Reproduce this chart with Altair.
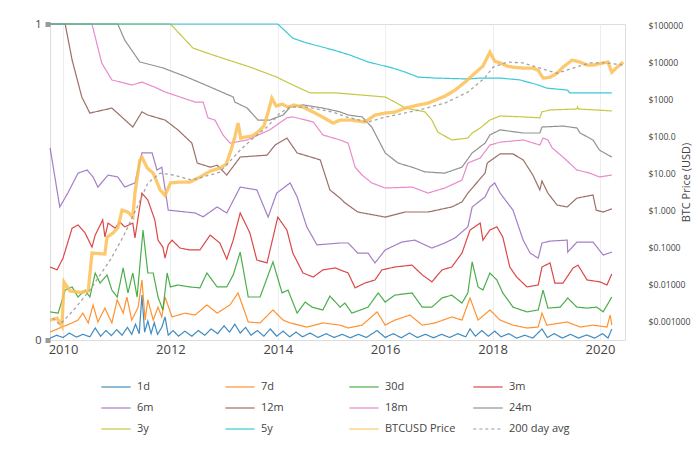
import altair as alt
import pandas as pd

SERIES = ["1d", "7d", "30d", "3m", "6m", "12m", "18m", "24m", "3y", "5y",
          "BTCUSD Price", "200 day avg"]
COLORS = ["#1f77b4", "#ff7f0e", "#2ca02c", "#d62728", "#9467bd", "#8c564b",
          "#e377c2", "#7f7f7f", "#bcbd22", "#17becf", "#fbbf55", "#9a9a9a"]

# ---- share of supply last moved within each age band (left axis, 0..1) ----
x_1d = [2009.76, 2009.88, 2010.00, 2010.12, 2010.25, 2010.37, 2010.50, 2010.60, 2010.70, 2010.80,
        2010.90, 2011.00, 2011.10, 2011.20, 2011.28, 2011.35, 2011.42, 2011.47, 2011.52, 2011.58,
        2011.64, 2011.70, 2011.76, 2011.84, 2011.90, 2011.96, 2012.05, 2012.15, 2012.27, 2012.40,
        2012.52, 2012.64, 2012.76, 2012.88, 2013.00, 2013.10, 2013.20, 2013.30, 2013.40, 2013.50,
        2013.62, 2013.74, 2013.86, 2013.98, 2014.10, 2014.22, 2014.34, 2014.46, 2014.60, 2014.75,
        2014.90, 2015.05, 2015.20, 2015.35, 2015.50, 2015.65, 2015.85, 2016.00, 2016.15, 2016.30,
        2016.45, 2016.60, 2016.75, 2016.90, 2017.05, 2017.20, 2017.35, 2017.50, 2017.58, 2017.68,
        2017.80, 2017.92, 2018.04, 2018.16, 2018.30, 2018.45, 2018.60, 2018.75, 2018.92, 2019.02,
        2019.15, 2019.30, 2019.45, 2019.60, 2019.75, 2019.90, 2020.05, 2020.15, 2020.22]
y_1d = [0.006, 0.015, 0.008, 0.022, 0.009, 0.018, 0.010, 0.038, 0.012, 0.030,
        0.014, 0.033, 0.015, 0.040, 0.018, 0.050, 0.020, 0.142, 0.025, 0.060,
        0.020, 0.055, 0.018, 0.040, 0.073, 0.015, 0.030, 0.012, 0.028, 0.012,
        0.030, 0.015, 0.035, 0.020, 0.045, 0.025, 0.050, 0.022, 0.040, 0.015,
        0.030, 0.012, 0.035, 0.012, 0.028, 0.010, 0.025, 0.010, 0.022, 0.008,
        0.020, 0.008, 0.018, 0.007, 0.018, 0.008, 0.030, 0.008, 0.020, 0.007,
        0.022, 0.008, 0.018, 0.007, 0.018, 0.008, 0.020, 0.010, 0.035, 0.012,
        0.030, 0.012, 0.028, 0.010, 0.020, 0.006, 0.015, 0.006, 0.035, 0.008,
        0.020, 0.006, 0.018, 0.006, 0.016, 0.006, 0.020, 0.006, 0.035]

x_7d = [2009.76, 2009.98, 2010.17, 2010.28, 2010.37, 2010.47, 2010.56, 2010.65, 2010.78, 2010.91,
        2011.01, 2011.12, 2011.19, 2011.28, 2011.40, 2011.47, 2011.53, 2011.58, 2011.68, 2011.77,
        2011.84, 2011.90, 2012.03, 2012.27, 2012.46, 2012.68, 2012.87, 2013.11, 2013.26, 2013.45,
        2013.67, 2013.91, 2014.10, 2014.23, 2014.54, 2014.84, 2015.16, 2015.31, 2015.57, 2015.85,
        2016.00, 2016.18, 2016.46, 2016.69, 2016.93, 2017.24, 2017.43, 2017.58, 2017.73, 2017.95,
        2018.14, 2018.38, 2018.64, 2018.85, 2018.92, 2019.01, 2019.39, 2019.63, 2019.87, 2020.13,
        2020.19, 2020.22]
y_7d = [0.025, 0.041, 0.054, 0.063, 0.085, 0.054, 0.111, 0.057, 0.101, 0.054,
        0.127, 0.085, 0.136, 0.063, 0.104, 0.190, 0.063, 0.127, 0.063, 0.104,
        0.073, 0.136, 0.073, 0.085, 0.079, 0.111, 0.085, 0.111, 0.149, 0.057,
        0.054, 0.095, 0.063, 0.054, 0.041, 0.054, 0.047, 0.038, 0.047, 0.089,
        0.047, 0.063, 0.079, 0.047, 0.054, 0.073, 0.063, 0.133, 0.063, 0.095,
        0.063, 0.047, 0.038, 0.041, 0.085, 0.047, 0.057, 0.041, 0.047, 0.041,
        0.079, 0.047]

x_30d = [2009.76, 2009.91, 2010.04, 2010.17, 2010.28, 2010.41, 2010.50, 2010.60, 2010.69, 2010.82,
         2010.91, 2011.01, 2011.12, 2011.21, 2011.30, 2011.38, 2011.49, 2011.58, 2011.68, 2011.77,
         2011.86, 2011.94, 2012.00, 2012.14, 2012.36, 2012.55, 2012.68, 2012.87, 2013.05, 2013.17,
         2013.30, 2013.45, 2013.67, 2013.91, 2014.08, 2014.19, 2014.36, 2014.51, 2014.64, 2014.84,
         2014.97, 2015.16, 2015.25, 2015.38, 2015.68, 2015.87, 2016.00, 2016.18, 2016.50, 2016.69,
         2016.87, 2017.06, 2017.24, 2017.43, 2017.54, 2017.62, 2017.73, 2017.82, 2017.95, 2018.08,
         2018.19, 2018.38, 2018.64, 2018.85, 2018.94, 2019.03, 2019.26, 2019.40, 2019.57, 2019.76,
         2019.94, 2020.06, 2020.22]
y_30d = [0.089, 0.085, 0.158, 0.168, 0.136, 0.158, 0.136, 0.212, 0.180, 0.206,
         0.158, 0.136, 0.228, 0.149, 0.212, 0.136, 0.348, 0.212, 0.212, 0.136,
         0.095, 0.212, 0.168, 0.174, 0.168, 0.165, 0.212, 0.168, 0.168, 0.206,
         0.278, 0.136, 0.136, 0.247, 0.149, 0.158, 0.085, 0.120, 0.104, 0.095,
         0.139, 0.104, 0.117, 0.085, 0.104, 0.149, 0.120, 0.142, 0.149, 0.104,
         0.104, 0.133, 0.142, 0.117, 0.149, 0.247, 0.168, 0.158, 0.212, 0.190,
         0.149, 0.104, 0.089, 0.095, 0.158, 0.101, 0.104, 0.133, 0.104, 0.101,
         0.104, 0.089, 0.136]

x_3m = [2009.76, 2009.89, 2010.00, 2010.17, 2010.28, 2010.41, 2010.54, 2010.60, 2010.74, 2010.78,
        2010.84, 2010.97, 2011.06, 2011.15, 2011.30, 2011.34, 2011.47, 2011.58, 2011.71, 2011.77,
        2011.86, 2011.90, 2011.96, 2012.03, 2012.18, 2012.36, 2012.55, 2012.74, 2012.92, 2013.05,
        2013.17, 2013.30, 2013.48, 2013.61, 2013.80, 2014.00, 2014.17, 2014.28, 2014.47, 2014.66,
        2014.84, 2015.07, 2015.31, 2015.44, 2015.62, 2015.81, 2015.94, 2016.18, 2016.50, 2016.69,
        2016.87, 2017.06, 2017.24, 2017.43, 2017.58, 2017.77, 2017.82, 2017.95, 2018.08, 2018.19,
        2018.32, 2018.45, 2018.64, 2018.85, 2018.92, 2019.07, 2019.16, 2019.31, 2019.50, 2019.59,
        2019.76, 2020.00, 2020.13, 2020.22]
y_3m = [0.231, 0.222, 0.259, 0.354, 0.364, 0.339, 0.294, 0.332, 0.380, 0.326,
        0.370, 0.354, 0.373, 0.358, 0.370, 0.323, 0.465, 0.443, 0.380, 0.316,
        0.294, 0.259, 0.301, 0.316, 0.291, 0.285, 0.285, 0.332, 0.307, 0.256,
        0.316, 0.402, 0.339, 0.253, 0.244, 0.389, 0.348, 0.275, 0.212, 0.199,
        0.222, 0.228, 0.212, 0.165, 0.180, 0.190, 0.222, 0.231, 0.237, 0.206,
        0.184, 0.222, 0.231, 0.275, 0.348, 0.370, 0.316, 0.348, 0.358, 0.326,
        0.231, 0.199, 0.168, 0.174, 0.231, 0.244, 0.180, 0.180, 0.228, 0.237,
        0.190, 0.184, 0.174, 0.209]

x_6m = [2009.76, 2009.94, 2010.09, 2010.28, 2010.45, 2010.56, 2010.65, 2010.84, 2011.02, 2011.15,
        2011.34, 2011.47, 2011.66, 2011.75, 2011.84, 2011.96, 2012.46, 2012.61, 2012.87, 2013.05,
        2013.30, 2013.61, 2013.82, 2013.98, 2014.23, 2014.36, 2014.54, 2014.73, 2015.16, 2015.31,
        2015.49, 2015.68, 2015.81, 2016.00, 2016.31, 2016.55, 2016.87, 2017.11, 2017.30, 2017.54,
        2017.62, 2017.86, 2017.95, 2018.04, 2018.14, 2018.38, 2018.57, 2018.70, 2018.85, 2018.92,
        2019.07, 2019.39, 2019.40, 2019.57, 2019.87, 2020.06, 2020.22]
y_6m = [0.608, 0.421, 0.465, 0.528, 0.538, 0.516, 0.484, 0.522, 0.516, 0.484,
        0.497, 0.592, 0.592, 0.538, 0.547, 0.411, 0.402, 0.390, 0.421, 0.402,
        0.484, 0.475, 0.389, 0.465, 0.497, 0.453, 0.358, 0.301, 0.307, 0.307,
        0.275, 0.275, 0.244, 0.285, 0.310, 0.316, 0.291, 0.307, 0.323, 0.358,
        0.421, 0.453, 0.484, 0.497, 0.465, 0.411, 0.316, 0.275, 0.259, 0.307,
        0.313, 0.316, 0.278, 0.310, 0.310, 0.269, 0.278]

x_12m = [2009.76, 2010.04, 2010.17, 2010.35, 2010.50, 2010.91, 2011.30, 2011.47, 2011.58, 2011.90,
         2012.14, 2012.40, 2012.50, 2012.74, 2012.87, 2013.05, 2013.30, 2013.80, 2013.95, 2014.17,
         2014.36, 2014.79, 2014.97, 2015.16, 2015.25, 2015.49, 2016.00, 2016.37, 2016.80, 2017.24,
         2017.43, 2017.54, 2017.86, 2017.90, 2018.14, 2018.38, 2018.57, 2018.75, 2018.88, 2018.92,
         2019.03, 2019.20, 2019.39, 2019.57, 2019.87, 2019.93, 2020.06, 2020.22]
y_12m = [1.0, 1.0, 0.886, 0.769, 0.718, 0.734, 0.674, 0.722, 0.712, 0.696,
         0.665, 0.623, 0.560, 0.547, 0.553, 0.522, 0.579, 0.585, 0.617, 0.639,
         0.592, 0.570, 0.475, 0.449, 0.434, 0.405, 0.389, 0.405, 0.405, 0.421,
         0.437, 0.465, 0.528, 0.560, 0.589, 0.589, 0.570, 0.522, 0.475, 0.503,
         0.465, 0.427, 0.421, 0.449, 0.459, 0.411, 0.405, 0.415]

x_18m = [2009.76, 2010.54, 2010.72, 2010.91, 2011.28, 2011.47, 2011.71, 2011.90, 2012.46, 2012.61,
         2012.70, 2012.83, 2012.98, 2013.11, 2013.43, 2013.85, 2014.17, 2014.28, 2014.66, 2014.84,
         2015.16, 2015.31, 2015.44, 2015.57, 2015.75, 2016.00, 2016.50, 2016.80, 2017.11, 2017.43,
         2017.54, 2017.77, 2017.95, 2018.14, 2018.57, 2018.88, 2018.94, 2019.03, 2019.11, 2019.31,
         2019.57, 2019.81, 2019.99, 2020.22]
y_18m = [1.0, 1.0, 0.877, 0.823, 0.807, 0.816, 0.800, 0.785, 0.753, 0.753,
         0.703, 0.696, 0.649, 0.623, 0.633, 0.665, 0.703, 0.706, 0.690, 0.649,
         0.633, 0.623, 0.547, 0.522, 0.497, 0.481, 0.484, 0.465, 0.481, 0.506,
         0.560, 0.576, 0.617, 0.626, 0.633, 0.617, 0.639, 0.633, 0.608, 0.579,
         0.538, 0.528, 0.516, 0.522]

x_24m = [2009.76, 2011.02, 2011.15, 2011.43, 2011.86, 2012.31, 2012.79, 2013.17, 2013.20, 2013.43,
         2013.63, 2013.85, 2014.10, 2014.23, 2014.47, 2014.84, 2015.16, 2015.31, 2015.57, 2015.75,
         2016.00, 2016.24, 2016.50, 2016.74, 2017.11, 2017.43, 2017.62, 2017.86, 2017.95, 2018.14,
         2018.57, 2018.88, 2018.92, 2019.31, 2019.57, 2019.63, 2019.87, 2019.99, 2020.22]
y_24m = [1.0, 1.0, 0.949, 0.880, 0.861, 0.832, 0.797, 0.769, 0.753, 0.734,
         0.696, 0.696, 0.712, 0.737, 0.744, 0.734, 0.722, 0.712, 0.706, 0.674,
         0.592, 0.560, 0.547, 0.532, 0.528, 0.547, 0.592, 0.623, 0.649, 0.665,
         0.655, 0.655, 0.674, 0.677, 0.671, 0.655, 0.633, 0.601, 0.579]

x_3y = [2009.76, 2012.00, 2012.42, 2012.79, 2013.48, 2013.98, 2014.17, 2014.60, 2015.07, 2016.00,
        2016.18, 2016.37, 2016.74, 2016.87, 2016.98, 2017.24, 2017.54, 2017.62, 2017.77, 2017.95,
        2018.14, 2018.57, 2018.88, 2018.92, 2019.07, 2019.57, 2019.58, 2019.60, 2020.22]
y_3y = [1.0, 1.0, 0.924, 0.902, 0.864, 0.832, 0.816, 0.782, 0.782, 0.769,
        0.753, 0.734, 0.722, 0.696, 0.658, 0.633, 0.639, 0.655, 0.671, 0.696,
        0.709, 0.706, 0.703, 0.722, 0.728, 0.731, 0.737, 0.731, 0.725]

x_5y = [2009.76, 2014.00, 2014.28, 2014.54, 2015.03, 2015.34, 2015.68, 2016.13, 2016.37, 2016.61,
        2016.93, 2017.54, 2017.77, 2018.14, 2018.51, 2018.85, 2019.01, 2019.39, 2019.44, 2020.22]
y_5y = [1.0, 1.0, 0.955, 0.940, 0.918, 0.902, 0.880, 0.861, 0.848, 0.832,
        0.829, 0.826, 0.829, 0.829, 0.823, 0.807, 0.797, 0.791, 0.782, 0.782]

# ---- BTC price and its 200 day average (right axis, USD, log) ----
x_price = [2009.76, 2009.89, 2009.98, 2010.02, 2010.13, 2010.32, 2010.47, 2010.54, 2010.78, 2010.82,
           2010.93, 2011.02, 2011.10, 2011.21, 2011.30, 2011.34, 2011.43, 2011.47, 2011.57, 2011.68,
           2011.81, 2011.90, 2012.00, 2012.14, 2012.36, 2012.55, 2012.74, 2012.92, 2013.04, 2013.13,
           2013.20, 2013.26, 2013.31, 2013.39, 2013.52, 2013.63, 2013.74, 2013.82, 2013.89, 2013.97,
           2014.08, 2014.19, 2014.30, 2014.47, 2014.66, 2014.84, 2015.03, 2015.16, 2015.38, 2015.62,
           2015.81, 2016.00, 2016.18, 2016.37, 2016.61, 2016.80, 2016.93, 2017.11, 2017.30, 2017.49,
           2017.67, 2017.82, 2017.95, 2018.04, 2018.14, 2018.27, 2018.38, 2018.57, 2018.75, 2018.85,
           2018.94, 2019.07, 2019.20, 2019.31, 2019.48, 2019.63, 2019.76, 2019.87, 2020.06, 2020.15,
           2020.22, 2020.32, 2020.43]
y_price = [0.00107, 0.0012, 0.00073, 0.0113, 0.0065, 0.006, 0.0065, 0.069, 0.065, 0.186,
           0.24, 0.33, 1.0, 0.88, 0.65, 2.9, 22.0, 27.0, 13.7, 10.0,
           3.5, 2.5, 5.4, 5.7, 5.7, 7.8, 11.3, 13.7, 17.5, 42.0,
           94.0, 225.0, 88.0, 94.0, 100.0, 128.0, 187.0, 445.0, 1060.0, 650.0,
           730.0, 610.0, 690.0, 610.0, 445.0, 325.0, 225.0, 270.0, 270.0, 240.0,
           370.0, 420.0, 445.0, 570.0, 690.0, 780.0, 935.0, 1200.0, 1750.0, 2900.0,
           5000.0, 7800.0, 18600.0, 10600.0, 9500.0, 7800.0, 7300.0, 6900.0, 6900.0, 6000.0,
           3700.0, 3900.0, 5000.0, 7300.0, 11300.0, 10000.0, 8300.0, 8300.0, 9500.0, 10000.0,
           5300.0, 7300.0, 10000.0]

x_avg = [2009.81, 2009.94, 2010.20, 2010.50, 2010.88, 2011.12, 2011.38, 2011.58, 2011.81, 2012.05,
         2012.40, 2012.92, 2013.30, 2013.54, 2013.80, 2014.04, 2014.23, 2014.54, 2015.03, 2015.29,
         2015.68, 2016.00, 2016.61, 2017.11, 2017.54, 2017.85, 2018.01, 2018.27, 2018.57, 2018.88,
         2019.20, 2019.50, 2019.81, 2020.13, 2020.43]
y_avg = [0.0012, 0.0008, 0.002, 0.0069, 0.045, 0.19, 1.2, 5.4, 10.0, 8.9,
         6.5, 10.6, 42.0, 88.0, 175.0, 420.0, 610.0, 610.0, 445.0, 325.0,
         240.0, 325.0, 500.0, 780.0, 1540.0, 3700.0, 7300.0, 10000.0, 9500.0, 6900.0,
         5000.0, 6900.0, 9500.0, 9500.0, 8300.0]

FRACTIONS = {"1d": (x_1d, y_1d), "7d": (x_7d, y_7d), "30d": (x_30d, y_30d),
             "3m": (x_3m, y_3m), "6m": (x_6m, y_6m), "12m": (x_12m, y_12m),
             "18m": (x_18m, y_18m), "24m": (x_24m, y_24m), "3y": (x_3y, y_3y),
             "5y": (x_5y, y_5y)}


def frame(xs, ys, name, col):
    return pd.DataFrame({"year": xs, col: ys, "series": name, "i": list(range(len(xs)))})


df_frac = pd.concat([frame(xs, ys, n, "value") for n, (xs, ys) in FRACTIONS.items()],
                    ignore_index=True)
df_px = frame(x_price, y_price, "BTCUSD Price", "price")
df_avg = frame(x_avg, y_avg, "200 day avg", "price")

FONT = "Open Sans"
W, H = 575, 316

legend = alt.Legend(orient="none", legendX=50, legendY=347, columns=4,
                    direction="horizontal", title=None, symbolType="stroke",
                    symbolSize=860, symbolOpacity=0.5, symbolStrokeWidth=2,
                    labelFontSize=11, labelColor="#444", labelFont=FONT, gridAlign="all",
                    columnPadding=13, rowPadding=-4, labelOffset=5, labelLimit=200)

color = alt.Color("series:N", scale=alt.Scale(domain=SERIES, range=COLORS), legend=legend)
dash = alt.StrokeDash("series:N", scale=alt.Scale(domain=SERIES,
                      range=[[1, 0]] * 11 + [[3, 3]]), legend=legend)

xenc = alt.X("year:Q", scale=alt.Scale(domain=[2009.758, 2020.466], nice=False, zero=False),
             axis=alt.Axis(values=[2010, 2012, 2014, 2016, 2018, 2020], format="d", title=None,
                           grid=True, gridColor="#eeeeee", domain=False, ticks=False,
                           labelFontSize=13, labelColor="#444", labelFont=FONT, labelPadding=3))

left = alt.Chart(df_frac).mark_line(opacity=0.85, strokeWidth=1.2).encode(
    x=xenc,
    y=alt.Y("value:Q", scale=alt.Scale(domain=[0, 1], nice=False),
            axis=alt.Axis(values=[0, 1], format="d", title=None, grid=False, domain=False,
                          tickSize=5, tickWidth=5, tickColor="#9a9a9a", labelPadding=4,
                          labelFontSize=11, labelColor="#444", labelFont=FONT)),
    color=color, strokeDash=dash, detail="series:N", order="i:Q")

yprice = alt.Y("price:Q", scale=alt.Scale(type="log", domain=[10 ** -3.51, 10 ** 5.03], nice=False),
               axis=alt.Axis(orient="right",
                             values=[0.001, 0.01, 0.1, 1, 10, 100, 1000, 10000, 100000],
                             labelExpr="'$' + format(datum.value, '.4r')",
                             title="BTC Price (USD)", titleFontSize=11, titleFontWeight="normal",
                             titleColor="#444", titleFont=FONT, titleAngle=270,
                             titleX=61, titleY=158, titleAlign="center", titleBaseline="middle",
                             grid=False, domain=False, ticks=False, labelPadding=23,
                             labelFontSize=8.7, labelColor="#444", labelFont=FONT))

price_line = alt.Chart(df_px).mark_line(opacity=0.85, strokeWidth=3.3).encode(
    x=xenc, y=yprice, color=color, strokeDash=dash, order="i:Q")
avg_line = alt.Chart(df_avg).mark_line(opacity=0.9, strokeWidth=1.3).encode(
    x=xenc, y=yprice, color=color, strokeDash=dash, order="i:Q")
right = alt.layer(price_line, avg_line)

chart = alt.layer(left, right).resolve_scale(y="independent").properties(
    width=W, height=H,
    autosize=alt.AutoSizeParams(type="none"),
    padding={"left": 42, "top": 16, "right": 67, "bottom": 102},
).configure_view(stroke=None).configure(font=FONT)

chart.save("out.html", embed_options={"renderer": "svg", "actions": False})
